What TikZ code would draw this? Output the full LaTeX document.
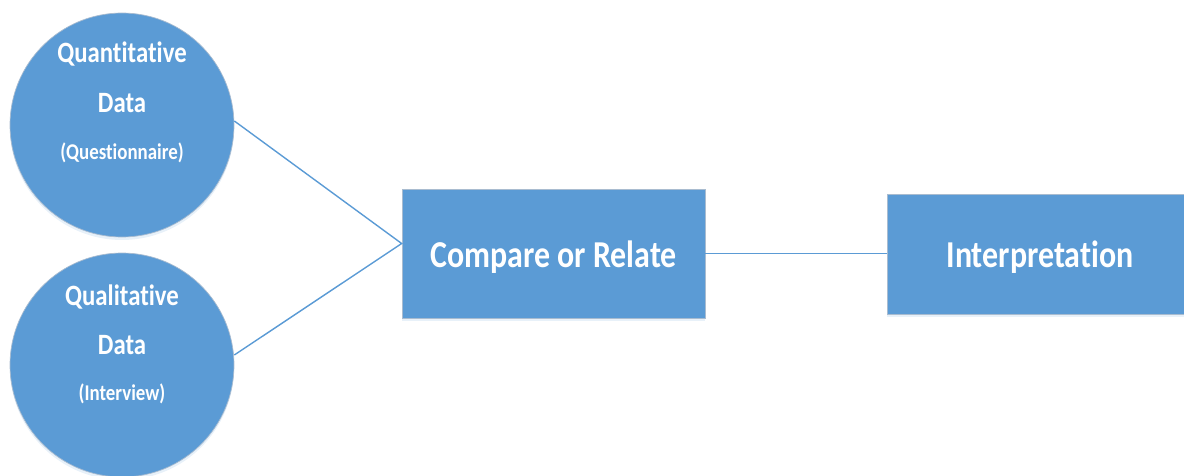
\documentclass[tikz,border=0pt]{standalone}
\usepackage{fontspec}
\newfontfamily\cfont{Carlito}[FakeStretch=0.84, Ligatures=NoCommon]
\usetikzlibrary{shadows,calc}
\definecolor{obl}{HTML}{5B9BD5}
\definecolor{oedge}{HTML}{A9BCD0}
\tikzset{
  shp/.style={fill=obl, draw=oedge, line width=0.7pt,
    drop shadow={shadow xshift=0pt, shadow yshift=-3pt, fill=obl!40, opacity=0.35}},
  datacirc/.style={shp, circle, minimum size=224pt, inner sep=0pt},
  stepbox/.style={shp, rectangle, inner sep=0pt},
  big/.style={text=white, font=\cfont\bfseries\fontsize{38}{40}\selectfont, anchor=base},
  mid/.style={text=white, font=\cfont\bfseries\fontsize{29.5}{31}\selectfont, anchor=base},
  sml/.style={text=white, font=\cfont\bfseries\fontsize{22.5}{24}\selectfont, anchor=base},
  conn/.style={draw=obl, line width=1.4pt}
}
\begin{document}
\begin{tikzpicture}[x=1pt,y=-1pt]
\useasboundingbox (0,0) rectangle (1184,476);
% circles
\node[datacirc] (q) at (122,125) {};
\node[datacirc] (l) at (122,365) {};
% boxes
\node[stepbox, minimum width=303pt, minimum height=129pt] (c) at (553.5,253.5) {};
\node[stepbox, minimum width=306pt, minimum height=120pt] (i) at (1040,254) {};
% texts
\node[mid] (q1) at ($(q)+(0,-62)$) {Quantitative};
\node[mid] (q2) at ($(q)+(0,-12)$) {Data};
\node[sml] (q3) at ($(q)+(0,35)$) {(Questionnaire)};
\node[mid] (l1) at ($(l)+(0,-60)$) {Qualitative};
\node[mid] (l2) at ($(l)+(0,-11)$) {Data};
\node[sml] (l3) at ($(l)+(0,35)$) {(Interview)};
\node[big] (ct) at ($(c)+(0,13.5)$) {Compare or Relate};
\node[big] (it) at ($(i)+(0,13)$) {Interpretation};
% connectors
\coordinate (m) at ($(c.west)+(0,-10)$);
\draw[conn] ($(q.east)+(0,-4)$) -- (m) -- ($(l.east)+(0,-10)$);
\draw[conn] (c.east) -- (c.east -| i.west);
\end{tikzpicture}
\end{document}
